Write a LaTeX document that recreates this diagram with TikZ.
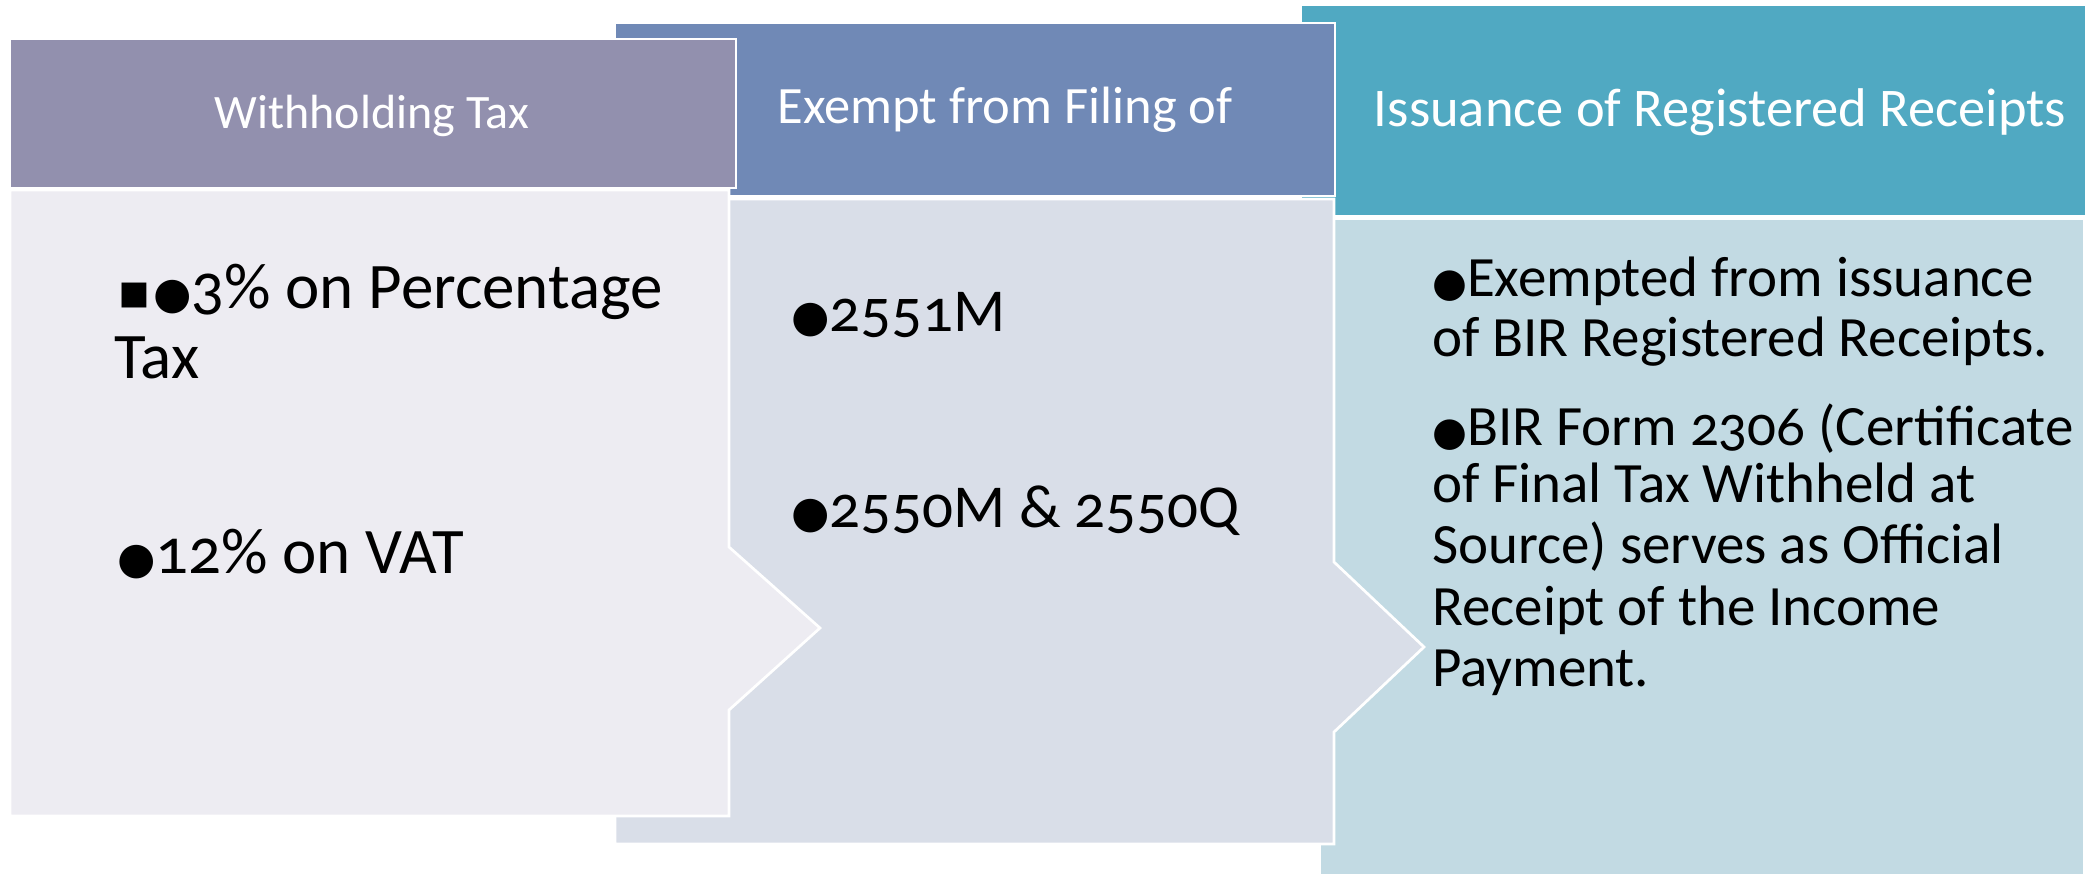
\documentclass[tikz,border=0pt]{standalone}
\usepackage{fontspec}
\setmainfont{Carlito}[Numbers=OldStyle]
\newfontfamily\symfont{DejaVu Sans}

\definecolor{hdrA}{RGB}{146,144,174}
\definecolor{bodyA}{RGB}{237,236,242}
\definecolor{hdrB}{RGB}{112,137,182}
\definecolor{bodyB}{RGB}{217,222,232}
\definecolor{hdrC}{RGB}{80,169,194}
\definecolor{bodyC}{RGB}{194,218,227}

% bullet glyphs
\newcommand\bdot[1]{{\symfont\fontsize{#1}{#1}\selectfont ●}}
\newcommand\bsq[1]{{\symfont\fontsize{#1}{#1}\selectfont ▪}}

\tikzset{
  panel/.style={draw=white, line width=2.7pt, line join=miter},
  hdrtext/.style={text=white, anchor=base, inner sep=0pt},
  lineA/.style={anchor=base west, inner sep=0pt, text=black,
    font=\fontsize{65}{70}\selectfont},
  lineB/.style={anchor=base west, inner sep=0pt, text=black,
    font=\fontsize{61}{70}\selectfont},
  lineC/.style={anchor=base west, inner sep=0pt, text=black,
    font=\fontsize{57}{61}\selectfont},
}

\begin{document}
\begin{tikzpicture}[x=1pt,y=-1pt]
\useasboundingbox (0,0) rectangle (2095,873);
\clip (0,0) rectangle (2095,873);

% third column (back)
\path[panel, fill=hdrC] (1301,5) rectangle (2086,216);
\path[panel, fill=bodyC] (1320,219) rectangle (2084,900);

% second column
\path[panel, fill=hdrB] (615,23) rectangle (1335,196);
\path[panel, fill=bodyB] (615,199) -- (1334,199) -- (1334,562) -- (1424,647)
  -- (1334,732) -- (1334,844) -- (615,844) -- cycle;

% first column (front)
\path[panel, fill=hdrA] (10,39) rectangle (736,188);
\path[panel, fill=bodyA] (10,190) -- (729,190) -- (729,547) -- (820,628)
  -- (729,710) -- (729,816) -- (10,816) -- cycle;

% headings
\node[hdrtext, font=\fontsize{48}{56}\selectfont] (h1) at (372,128) {Withholding Tax};
\node[hdrtext, font=\fontsize{52.5}{60}\selectfont] (h2) at (1005,123) {Exempt from Filing of};
\node[hdrtext, font=\fontsize{54.5}{62}\selectfont] (h3) at (1720,126) {Issuance of Registered Receipts};

% first column items
\node[lineA] (a1) at (117,308) {\bsq{50}\kern2pt\bdot{44}3\% on Percentage};
\node[lineA] (a2) at (114,378) {Tax};
\node[lineA] (a3) at (117,573) {\bdot{44}12\% on VAT};

% second column items
\node[lineB] (b1) at (791,331) {\bdot{44}2551M};
\node[lineB] (b2) at (791,527) {\bdot{44}2550M \& 2550Q};

% third column items
\node[lineC] (c1) at (1432,296) {\bdot{40}Exempted from issuance};
\node[lineC] (c2) at (1432,356) {of BIR Registered Receipts.};
\node[lineC] (c3) at (1432,445) {\bdot{40}BIR Form 2306 (Certificate};
\node[lineC] (c4) at (1432,502) {of Final Tax Withheld at};
\node[lineC] (c5) at (1432,563) {Source) serves as Official};
\node[lineC] (c6) at (1432,625) {Receipt of the Income};
\node[lineC] (c7) at (1432,686) {Payment.};
\end{tikzpicture}
\end{document}
